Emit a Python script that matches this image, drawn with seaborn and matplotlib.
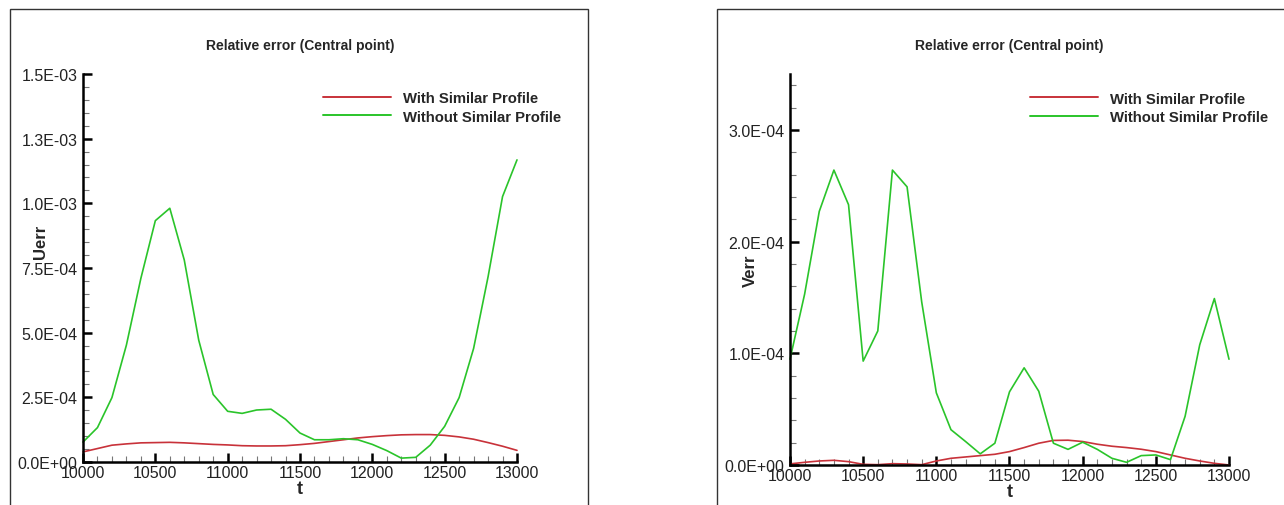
import numpy as np
import pandas as pd
import matplotlib
matplotlib.use("Agg")
import matplotlib.pyplot as plt
import seaborn as sns
from matplotlib.patches import Rectangle
from matplotlib.ticker import MultipleLocator, FixedLocator, FixedFormatter

# time samples (every 100)
t = list(range(10000, 13001, 100))

# left panel: Uerr
u_with = [0.039, 0.052, 0.065, 0.070, 0.074, 0.075, 0.076, 0.074, 0.071, 0.068,
          0.066, 0.063, 0.062, 0.062, 0.063, 0.067, 0.072, 0.079, 0.086, 0.093,
          0.098, 0.102, 0.105, 0.106, 0.106, 0.103, 0.097, 0.088, 0.075, 0.061,
          0.045]
u_without = [0.077, 0.133, 0.249, 0.452, 0.710, 0.933, 0.981, 0.781, 0.471, 0.261,
             0.196, 0.188, 0.201, 0.204, 0.165, 0.112, 0.086, 0.086, 0.090, 0.086,
             0.068, 0.044, 0.015, 0.018, 0.065, 0.138, 0.249, 0.439, 0.716, 1.026,
             1.168]

# right panel: Verr
v_with = [0.010, 0.024, 0.036, 0.042, 0.030, 0.006, 0.003, 0.012, 0.009, 0.003,
          0.036, 0.060, 0.072, 0.084, 0.096, 0.120, 0.156, 0.195, 0.220, 0.222,
          0.210, 0.186, 0.168, 0.156, 0.141, 0.120, 0.090, 0.060, 0.036, 0.015,
          0.000]
v_without = [0.947, 1.53, 2.27, 2.64, 2.33, 0.93, 1.20, 2.64, 2.49, 1.46,
             0.646, 0.316, 0.210, 0.100, 0.195, 0.655, 0.870, 0.660, 0.195, 0.140,
             0.204, 0.140, 0.060, 0.024, 0.084, 0.090, 0.048, 0.436, 1.076, 1.49,
             0.947]

series_names = ["With Similar Profile", "Without Similar Profile"]
xticks = [10000, 10500, 11000, 11500, 12000, 12500, 13000]
u_yticks = [0.0, 2.5e-4, 5.0e-4, 7.5e-4, 1.0e-3, 1.25e-3, 1.5e-3]
u_yticklabels = ["0.0E+00", "2.5E-04", "5.0E-04", "7.5E-04", "1.0E-03", "1.3E-03", "1.5E-03"]
v_yticks = [0.0, 1.0e-4, 2.0e-4, 3.0e-4]
v_yticklabels = ["0.0E+00", "1.0E-04", "2.0E-04", "3.0E-04"]

sns.set_style("white")
plt.rcParams['font.family'] = ['Liberation Sans', 'DejaVu Sans']

palette = {series_names[0]: "#c8323a", series_names[1]: "#2ac42a"}

fig = plt.figure(figsize=(12.84, 5.06), dpi=100)

# panel frames
for x0, x1 in [(10, 588), (717, 1290)]:
    fig.patches.append(Rectangle((x0 / 1284, -0.05), (x1 - x0) / 1284, 1.05 - 10 / 506,
                                 transform=fig.transFigure, fill=False,
                                 edgecolor="#333333", linewidth=1.0))


def make_panel(rect, with_vals, without_vals, scale, ylim, yticks, yticklabels,
               yminor, ylabel, ylab_xy, leg_x):
    ax = fig.add_axes(rect)
    df = pd.DataFrame({
        "t": t + t,
        "err": [v * scale for v in with_vals] + [v * scale for v in without_vals],
        "series": [series_names[0]] * len(t) + [series_names[1]] * len(t),
    })
    sns.lineplot(data=df, x="t", y="err", hue="series", palette=palette,
                 linewidth=1.2, ax=ax, clip_on=False)
    ax.set_xlim(10000, 13000)
    ax.set_ylim(*ylim)
    for s in ["top", "right"]:
        ax.spines[s].set_visible(False)
    for s in ["left", "bottom"]:
        ax.spines[s].set_linewidth(1.8)
        ax.spines[s].set_color("black")
    ax.xaxis.set_major_locator(FixedLocator(xticks))
    ax.xaxis.set_major_formatter(FixedFormatter([str(x) for x in xticks]))
    ax.xaxis.set_minor_locator(MultipleLocator(100))
    ax.yaxis.set_major_locator(FixedLocator(yticks))
    ax.yaxis.set_major_formatter(FixedFormatter(yticklabels))
    ax.yaxis.set_minor_locator(MultipleLocator(yminor))
    ax.tick_params(which="major", direction="in", length=6.5, width=1.8,
                   labelsize=11.5, color="black", labelcolor="#222222")
    ax.tick_params(axis="x", which="major", pad=2)
    ax.tick_params(axis="y", which="major", pad=4)
    ax.tick_params(which="minor", direction="in", length=4, width=0.8, color="#777777")
    ax.tick_params(axis="x", which="both", bottom=True)
    ax.tick_params(axis="y", which="both", left=True)
    ax.set_title("Relative error (Central point)", fontsize=10, fontweight="bold",
                 pad=18)
    ax.set_xlabel("t", fontsize=13, fontweight="bold")
    ax.xaxis.label.set_va("center")
    ax.xaxis.set_label_coords(0.5, -0.068)
    ax.set_ylabel(ylabel, fontsize=12, fontweight="bold")
    ax.yaxis.label.set_va("center")
    ax.yaxis.set_label_coords(*ylab_xy)
    leg = ax.legend(loc="upper left", bbox_to_anchor=(leg_x, 0.955), frameon=False,
                    borderpad=0, borderaxespad=0, handlelength=4.6,
                    handletextpad=0.75, labelspacing=0.28,
                    prop={"size": 10.7, "weight": "bold"})
    for line in leg.get_lines():
        line.set_linewidth(1.4)
    return ax


make_panel([83 / 1284, 1 - 463 / 506, 434 / 1284, 388 / 506],
           u_with, u_without, 1e-3, (0, 1.5e-3), u_yticks, u_yticklabels,
           5e-5, "Uerr", (-0.097, 0.57), 0.553)
make_panel([790 / 1284, 1 - 466 / 506, 439 / 1284, 391 / 506],
           v_with, v_without, 1e-4, (0, 3.5e-4), v_yticks, v_yticklabels,
           2e-5, "Verr", (-0.091, 0.50), 0.547)

fig.savefig("out.png", dpi=100)
